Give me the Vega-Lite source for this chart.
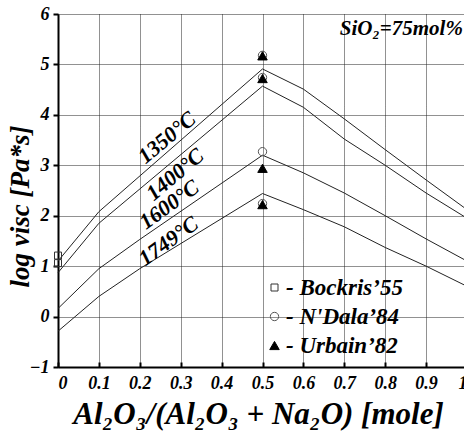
{
  "$schema": "https://vega.github.io/schema/vega-lite/v6.json",
  "width": 406,
  "height": 353,
  "autosize": {"type": "none"},
  "padding": {"left": 58, "top": 14, "right": 0, "bottom": 69},
  "background": "white",
  "config": {
    "view": {"stroke": null},
    "font": "Liberation Serif",
    "axis": {
      "labelFont": "Liberation Serif",
      "labelFontStyle": "italic",
      "labelFontWeight": "bold",
      "labelFontSize": 18,
      "labelColor": "black",
      "titleFont": "Liberation Serif",
      "titleFontStyle": "italic",
      "titleFontWeight": "bold",
      "titleColor": "black",
      "gridColor": "#222",
      "gridDash": [1, 1],
      "gridWidth": 1,
      "gridOpacity": 1,
      "domainColor": "black",
      "domainWidth": 2,
      "tickColor": "black",
      "tickWidth": 2
    }
  },
  "datasets": {
    "curves": [
      {"series": "1350", "x": 0, "y": 1.1},
      {"series": "1350", "x": 0.1, "y": 2.08},
      {"series": "1350", "x": 0.5, "y": 4.91},
      {"series": "1350", "x": 0.6, "y": 4.51},
      {"series": "1350", "x": 0.7, "y": 3.92},
      {"series": "1350", "x": 0.8, "y": 3.31},
      {"series": "1350", "x": 0.9, "y": 2.71},
      {"series": "1350", "x": 1.0, "y": 2.12},
      {"series": "1400", "x": 0, "y": 0.87},
      {"series": "1400", "x": 0.1, "y": 1.85},
      {"series": "1400", "x": 0.5, "y": 4.57},
      {"series": "1400", "x": 0.6, "y": 4.15},
      {"series": "1400", "x": 0.7, "y": 3.52},
      {"series": "1400", "x": 0.8, "y": 3.0},
      {"series": "1400", "x": 0.9, "y": 2.45},
      {"series": "1400", "x": 1.0, "y": 1.95},
      {"series": "1600", "x": 0, "y": 0.16},
      {"series": "1600", "x": 0.1, "y": 0.95},
      {"series": "1600", "x": 0.2, "y": 1.53},
      {"series": "1600", "x": 0.5, "y": 3.2},
      {"series": "1600", "x": 0.6, "y": 2.85},
      {"series": "1600", "x": 0.7, "y": 2.45},
      {"series": "1600", "x": 0.8, "y": 2.0},
      {"series": "1600", "x": 0.9, "y": 1.54},
      {"series": "1600", "x": 1.0, "y": 1.1},
      {"series": "1749", "x": 0, "y": -0.29},
      {"series": "1749", "x": 0.1, "y": 0.4},
      {"series": "1749", "x": 0.2, "y": 0.95},
      {"series": "1749", "x": 0.5, "y": 2.44},
      {"series": "1749", "x": 0.6, "y": 2.12},
      {"series": "1749", "x": 0.7, "y": 1.78},
      {"series": "1749", "x": 0.8, "y": 1.37},
      {"series": "1749", "x": 0.9, "y": 1.0},
      {"series": "1749", "x": 1.0, "y": 0.6}
    ],
    "points": [
      {"source": "Bockris’55", "x": 0, "y": 1.21},
      {"source": "Bockris’55", "x": 0, "y": 1.06},
      {"source": "N'Dala’84", "x": 0.5, "y": 5.18},
      {"source": "N'Dala’84", "x": 0.5, "y": 4.74},
      {"source": "N'Dala’84", "x": 0.5, "y": 3.27},
      {"source": "N'Dala’84", "x": 0.5, "y": 2.24},
      {"source": "Urbain’82", "x": 0.5, "y": 5.17},
      {"source": "Urbain’82", "x": 0.5, "y": 4.72},
      {"source": "Urbain’82", "x": 0.5, "y": 2.94},
      {"source": "Urbain’82", "x": 0.5, "y": 2.22}
    ],
    "labels": [
      {"label": "1350°C", "group": "a", "x": 0.266, "y": 3.55},
      {"label": "1400°C", "group": "a", "x": 0.286, "y": 2.82},
      {"label": "1600°C", "group": "b", "x": 0.272, "y": 2.22},
      {"label": "1749°C", "group": "b", "x": 0.27, "y": 1.5}
    ],
    "note": [
      {"label": "SiO₂=75mol%", "x": 0.99, "y": 5.58}
    ]
  },
  "layer": [
    {
      "data": {"name": "curves"},
      "mark": {"type": "line", "color": "#222", "strokeWidth": 1},
      "encoding": {
        "x": {
          "field": "x",
          "type": "quantitative",
          "scale": {"domain": [0, 1], "range": [0, 409], "nice": false, "zero": false},
          "axis": {
            "values": [0, 0.1, 0.2, 0.3, 0.4, 0.5, 0.6, 0.7, 0.8, 0.9, 1],
            "format": "~g",
            "tickSize": -5,
            "labelPadding": 26,
            "labelBaseline": "alphabetic",
            "title": "Al₂O₃/(Al₂O₃ + Na₂O) [mole]",
            "titleFontSize": 31,
            "titleX": 200,
            "titleY": 56,
            "titleAlign": "center",
            "titleBaseline": "alphabetic"
          }
        },
        "y": {
          "field": "y",
          "type": "quantitative",
          "scale": {"domain": [-1, 6], "nice": false, "zero": false},
          "axis": {
            "values": [-1, 0, 1, 2, 3, 4, 5, 6],
            "format": "d",
            "tickSize": 5,
            "labelPadding": 4,
            "title": "log visc [Pa*s]",
            "titleFontSize": 27,
            "titleX": -30,
            "titleY": 192,
            "titleAlign": "center",
            "titleBaseline": "alphabetic",
            "titleAngle": -90
          }
        },
        "detail": {"field": "series"}
      }
    },
    {
      "mark": {"type": "rule", "color": "#333", "strokeWidth": 2},
      "encoding": {"y": {"datum": 6}}
    },
    {
      "data": {"name": "points"},
      "mark": {"type": "point", "filled": true, "opacity": 1, "strokeWidth": 1},
      "encoding": {
        "x": {"field": "x", "type": "quantitative"},
        "y": {"field": "y", "type": "quantitative"},
        "shape": {
          "field": "source",
          "type": "nominal",
          "scale": {"domain": ["Bockris’55", "N'Dala’84", "Urbain’82"], "range": ["square", "circle", "triangle-up"]},
          "legend": {
            "orient": "none",
            "legendX": 205,
            "legendY": 262,
            "title": null,
            "padding": 0,
            "labelFont": "Liberation Serif",
            "labelFontStyle": "italic",
            "labelFontWeight": "bold",
            "labelFontSize": 23,
            "labelColor": "black",
            "labelExpr": "'- ' + datum.label",
            "labelOffset": 0,
            "rowPadding": 5,
            "symbolStrokeWidth": 1
          }
        },
        "fill": {
          "field": "source",
          "type": "nominal",
          "scale": {"domain": ["Bockris’55", "N'Dala’84", "Urbain’82"], "range": ["transparent", "transparent", "black"]}
        },
        "stroke": {
          "field": "source",
          "type": "nominal",
          "scale": {"domain": ["Bockris’55", "N'Dala’84", "Urbain’82"], "range": ["#333", "#555", "black"]}
        },
        "size": {
          "field": "source",
          "type": "nominal",
          "scale": {"domain": ["Bockris’55", "N'Dala’84", "Urbain’82"], "range": [49, 90, 36]}
        }
      }
    },
    {
      "data": {"name": "labels"},
      "transform": [{"filter": "datum.group === 'a'"}],
      "mark": {"type": "text", "font": "Liberation Serif", "fontStyle": "italic", "fontWeight": "bold", "fontSize": 22, "angle": -40, "align": "center", "baseline": "middle", "color": "black"},
      "encoding": {
        "x": {"field": "x", "type": "quantitative"},
        "y": {"field": "y", "type": "quantitative"},
        "text": {"field": "label"}
      }
    },
    {
      "data": {"name": "labels"},
      "transform": [{"filter": "datum.group === 'b'"}],
      "mark": {"type": "text", "font": "Liberation Serif", "fontStyle": "italic", "fontWeight": "bold", "fontSize": 22, "angle": -36, "align": "center", "baseline": "middle", "color": "black"},
      "encoding": {
        "x": {"field": "x", "type": "quantitative"},
        "y": {"field": "y", "type": "quantitative"},
        "text": {"field": "label"}
      }
    },
    {
      "data": {"name": "note"},
      "mark": {"type": "text", "font": "Liberation Serif", "fontStyle": "italic", "fontWeight": "bold", "fontSize": 21, "align": "right", "baseline": "alphabetic", "color": "black"},
      "encoding": {
        "x": {"field": "x", "type": "quantitative"},
        "y": {"field": "y", "type": "quantitative"},
        "text": {"field": "label"}
      }
    }
  ]
}
